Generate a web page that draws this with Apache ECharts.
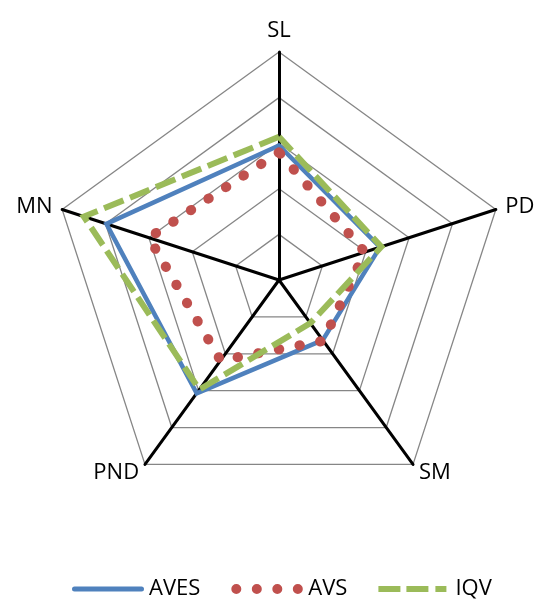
<!DOCTYPE html>
<html>
<head>
<meta charset="utf-8">
<script src="https://cdn.jsdelivr.net/npm/echarts@6/dist/echarts.min.js"></script>
<style>
  html, body { margin: 0; padding: 0; background: #fff; }
  #chart { width: 538px; height: 601px; }
</style>
</head>
<body>
<div id="chart"></div>
<script>
// Axes listed clockwise from the top
const categories = ['SL', 'PD', 'SM', 'PND', 'MN'];
const axisMax = 5;

// Scores per axis, same order as categories
const aves = [2.95, 2.33, 1.63, 3.07, 3.98];
const avs  = [2.8, 1.98, 1.65, 2.18, 3.0];
const iqv  = [3.14, 2.36, 1.17, 2.97, 4.5];

const seriesNames = ['AVES', 'AVS', 'IQV'];
const seriesValues = [aves, avs, iqv];

// ECharts lays indicators out counter-clockwise, so keep the first and reverse the rest
function clockwise(arr) {
  return [arr[0]].concat(arr.slice(1).reverse());
}

const FONT = '"Open Sans", "Liberation Sans", sans-serif';
const BLUE = '#4F81BD', RED = '#C0504D', GREEN = '#9BBB59';

const styles = [
  { color: BLUE,  width: 4.5, type: 'solid', cap: 'round', join: 'miter' },
  { color: RED,   width: 10,  type: [0.5, 20.5], cap: 'round', join: 'round' },
  { color: GREEN, width: 6,   type: [21, 7], cap: 'butt', join: 'miter' }
];

// Legend swatches (72 x 10 box each)
const icons = [
  'path://M0 0L0 0ZM72 10L72 10ZM2.5 2.5L69.5 2.5A2.5 2.5 0 0 1 69.5 7.5L2.5 7.5A2.5 2.5 0 0 1 2.5 2.5Z',
  'path://M0 0L0 0ZM72 10L72 10Z' +
    'M0 5A5 5 0 1 0 10 5A5 5 0 1 0 0 5Z' +
    'M20.5 5A5 5 0 1 0 30.5 5A5 5 0 1 0 20.5 5Z' +
    'M41 5A5 5 0 1 0 51 5A5 5 0 1 0 41 5Z' +
    'M61.5 5A5 5 0 1 0 71.5 5A5 5 0 1 0 61.5 5Z',
  'path://M0 0L0 0ZM72 10L72 10ZM0 2L22 2L22 8L0 8ZM28 2L50 2L50 8L28 8ZM57 2L68 2L68 8L57 8Z'
];

const chart = echarts.init(document.getElementById('chart'), null, { renderer: 'canvas' });

chart.setOption({
  animation: false,
  backgroundColor: '#fff',
  legend: {
    left: 72,
    top: 578,
    padding: 0,
    itemWidth: 72,
    itemHeight: 10,
    itemGap: 31,
    textStyle: { fontFamily: FONT, fontSize: 22, color: '#000' },
    itemStyle: { borderWidth: 0 },
    data: seriesNames.map((n, i) => ({ name: n, icon: icons[i], itemStyle: { color: styles[i].color } }))
  },
  radar: {
    center: [279, 280],
    radius: 228,
    startAngle: 90,
    shape: 'polygon',
    splitNumber: 5,
    nameGap: 10,
    indicator: clockwise(categories).map(c => ({ name: c, min: 0, max: axisMax })),
    axisName: { color: '#000', fontFamily: FONT, fontSize: 22 },
    axisLine: { lineStyle: { color: '#000', width: 3 } },
    axisTick: { show: false },
    axisLabel: { show: false },
    splitLine: { lineStyle: { color: '#868686', width: 1.3 } },
    splitArea: { show: false }
  },
  series: seriesNames.map((n, i) => ({
    type: 'radar',
    name: n,
    symbol: 'none',
    z: 2 + i,
    lineStyle: styles[i],
    itemStyle: { color: styles[i].color },
    data: [{ name: n, value: clockwise(seriesValues[i]) }]
  }))
});
</script>
</body>
</html>
